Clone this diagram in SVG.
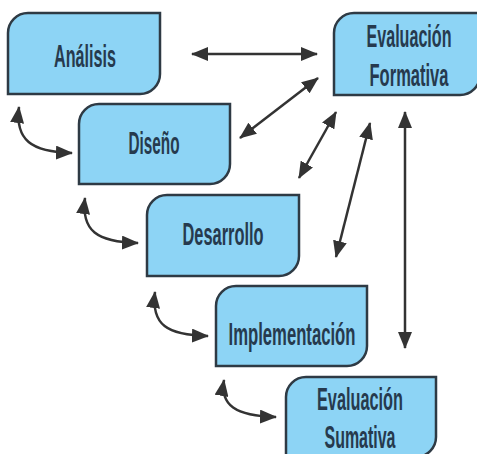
<svg xmlns="http://www.w3.org/2000/svg" width="477" height="454" viewBox="0 0 477 454">
<style>
.box{fill:#8dd4f5;stroke:#2e3a44;stroke-width:2.5}
.lbl{font-family:"Liberation Sans",Arial,sans-serif;font-size:16.3px;font-weight:bold;fill:#263a4e;text-anchor:middle}
.ar{fill:none;stroke:#333;stroke-width:2.5;marker-start:url(#ah);marker-end:url(#ah)}
</style>
<defs>
<marker id="ah" markerUnits="userSpaceOnUse" markerWidth="17" markerHeight="14" viewBox="0 0 17 14" refX="16" refY="7" orient="auto-start-reverse">
<path d="M0,0 L17,7 L0,14 z" fill="#333"/>
</marker>
</defs>
<rect width="477" height="454" fill="#fff"/>
<g id="analisis">
<path class="box" d="M28,13 H160 V74 A20,20 0 0 1 140,94 H8 V33 A20,20 0 0 1 28,13 Z"/>
<text class="lbl" transform="translate(85,67) scale(1,1.96)" textLength="62" lengthAdjust="spacingAndGlyphs">Análisis</text>
</g>
<g id="diseno">
<path class="box" d="M99,104 H230 V164 A20,20 0 0 1 210,184 H79 V124 A20,20 0 0 1 99,104 Z"/>
<text class="lbl" transform="translate(154,154) scale(1,1.96)" textLength="51" lengthAdjust="spacingAndGlyphs">Diseño</text>
</g>
<g id="desarrollo">
<path class="box" d="M167,195 H299 V256 A20,20 0 0 1 279,276 H147 V215 A20,20 0 0 1 167,195 Z"/>
<text class="lbl" transform="translate(223,245) scale(1,1.96)" textLength="81" lengthAdjust="spacingAndGlyphs">Desarrollo</text>
</g>
<g id="implementacion">
<path class="box" d="M236,286 H367 V346 A20,20 0 0 1 347,366 H216 V306 A20,20 0 0 1 236,286 Z"/>
<text class="lbl" transform="translate(292,345) scale(1,1.96)" textLength="127" lengthAdjust="spacingAndGlyphs">Implementación</text>
</g>
<g id="eval-formativa">
<path class="box" d="M354,13 H480 V75 A20,20 0 0 1 460,95 H334 V33 A20,20 0 0 1 354,13 Z"/>
<text class="lbl" transform="translate(409,47) scale(1,1.96)" textLength="85" lengthAdjust="spacingAndGlyphs">Evaluación</text>
<text class="lbl" transform="translate(409,86) scale(1,1.96)" textLength="79" lengthAdjust="spacingAndGlyphs">Formativa</text>
</g>
<g id="eval-sumativa">
<path class="box" d="M306,377 H436 V437 A20,20 0 0 1 416,457 H286 V397 A20,20 0 0 1 306,377 Z"/>
<text class="lbl" transform="translate(360,410) scale(1,1.96)" textLength="86" lengthAdjust="spacingAndGlyphs">Evaluación</text>
<text class="lbl" transform="translate(360,448) scale(1,1.96)" textLength="71" lengthAdjust="spacingAndGlyphs">Sumativa</text>
</g>
<g id="connectors">
<path class="ar" d="M192,54 L317,54"/>
<path class="ar" d="M240,138 L318,78"/>
<path class="ar" d="M299,178 L336,112"/>
<path class="ar" d="M370,123 L336,257"/>
<path class="ar" d="M405,112 L405,348"/>
<path class="ar" d="M19,107 C15,140 31,152 72,153"/>
<path class="ar" d="M85,198 C81,231 97,242 138,243"/>
<path class="ar" d="M155,292 C151,325 167,335 208,336"/>
<path class="ar" d="M224,380 C220,405 235,416 276,417"/>
</g>
</svg>
